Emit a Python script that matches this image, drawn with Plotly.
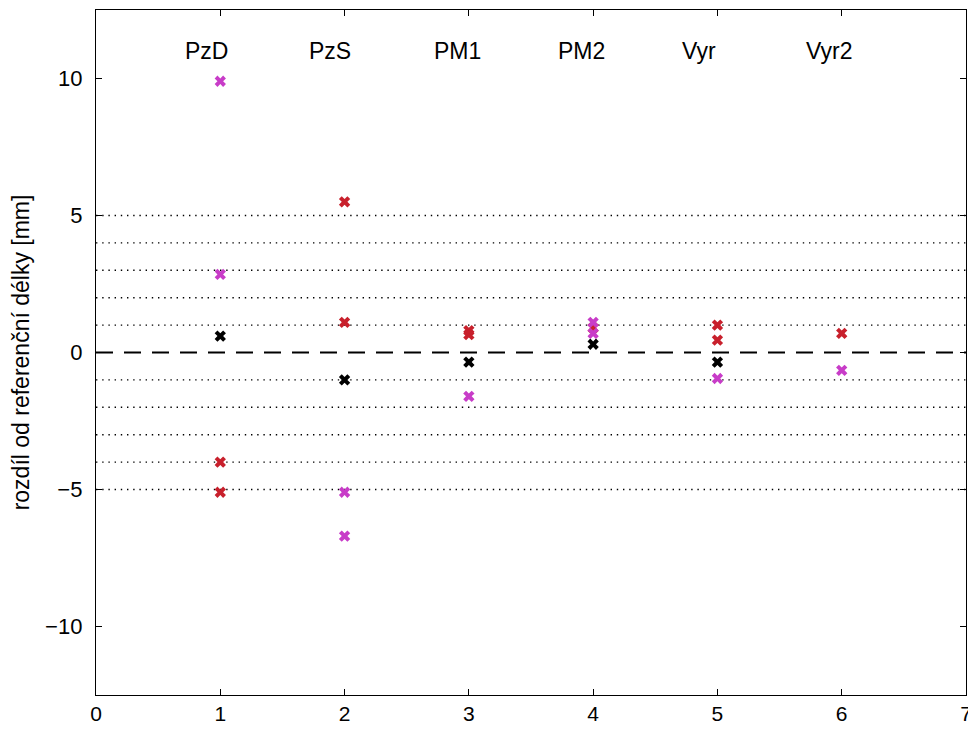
import plotly.graph_objects as go

# categories (labels at the top of the chart) and their x positions (left edge of text)
categories = ["PzD", "PzS", "PM1", "PM2", "Vyr", "Vyr2"]
category_x = [0.7, 1.7, 2.7, 3.7, 4.7, 5.7]
category_y = 11.0

# series values
red_x = [1, 1, 2, 2, 3, 3, 4, 5, 5, 6]
red_y = [-4.0, -5.1, 5.5, 1.1, 0.65, 0.8, 0.9, 1.0, 0.45, 0.7]

magenta_x = [1, 1, 2, 2, 3, 4, 4, 5, 6]
magenta_y = [9.9, 2.85, -5.1, -6.7, -1.6, 1.1, 0.7, -0.95, -0.65]

black_x = [1, 2, 3, 4, 5]
black_y = [0.6, -1.0, -0.35, 0.3, -0.35]

# reference lines
dotted_levels = [-5, -4, -3, -2, -1, 1, 2, 3, 4, 5]
zero_level = 0

x_ticks = [0, 1, 2, 3, 4, 5, 6, 7]
y_ticks = [-10, -5, 0, 5, 10]

FONT = "Liberation Sans, Arial, sans-serif"

fig = go.Figure()

for lv in dotted_levels:
    fig.add_shape(type="line", xref="x", yref="y", x0=0, x1=7, y0=lv, y1=lv,
                  line=dict(color="black", width=1.4, dash="1.4px,4.8px"), layer="below")
fig.add_shape(type="line", xref="x", yref="y", x0=0, x1=7, y0=zero_level, y1=zero_level,
              line=dict(color="black", width=1.8, dash="17px,11px"), layer="below")

for xs, ys, col in [(black_x, black_y, "#000000"),
                    (red_x, red_y, "#c8202c"),
                    (magenta_x, magenta_y, "#c83cc8")]:
    fig.add_trace(go.Scatter(x=xs, y=ys, mode="markers",
                             marker=dict(symbol="x", size=10, color=col,
                                         line=dict(width=0)),
                             showlegend=False, cliponaxis=False))

for name, cx in zip(categories, category_x):
    fig.add_annotation(x=cx, y=category_y, text=name, showarrow=False,
                       xanchor="left", yanchor="middle",
                       font=dict(family=FONT, size=23, color="black"))

axis_common = dict(showline=True, linecolor="black", linewidth=1.3, mirror="ticks",
                   ticks="inside", ticklen=6, tickwidth=1.3, tickcolor="black",
                   showgrid=False, zeroline=False)

fig.update_xaxes(range=[0, 7], tickvals=x_ticks, ticklabelstandoff=0,
                 tickfont=dict(family=FONT, size=21, color="black"), **axis_common)
fig.update_yaxes(range=[-12.5, 12.5], tickvals=y_ticks, ticklabelstandoff=8,
                 tickfont=dict(family=FONT, size=22, color="black"),
                 title=dict(text="rozdíl od referenční délky [mm]",
                            font=dict(family=FONT, size=23, color="black"), standoff=12),
                 **axis_common)

fig.update_layout(width=968, height=723, plot_bgcolor="white", paper_bgcolor="white",
                  margin=dict(l=88, r=10, t=2, b=36, autoexpand=False),
                  font=dict(family=FONT, color="black"))

fig.write_html("out.html")
